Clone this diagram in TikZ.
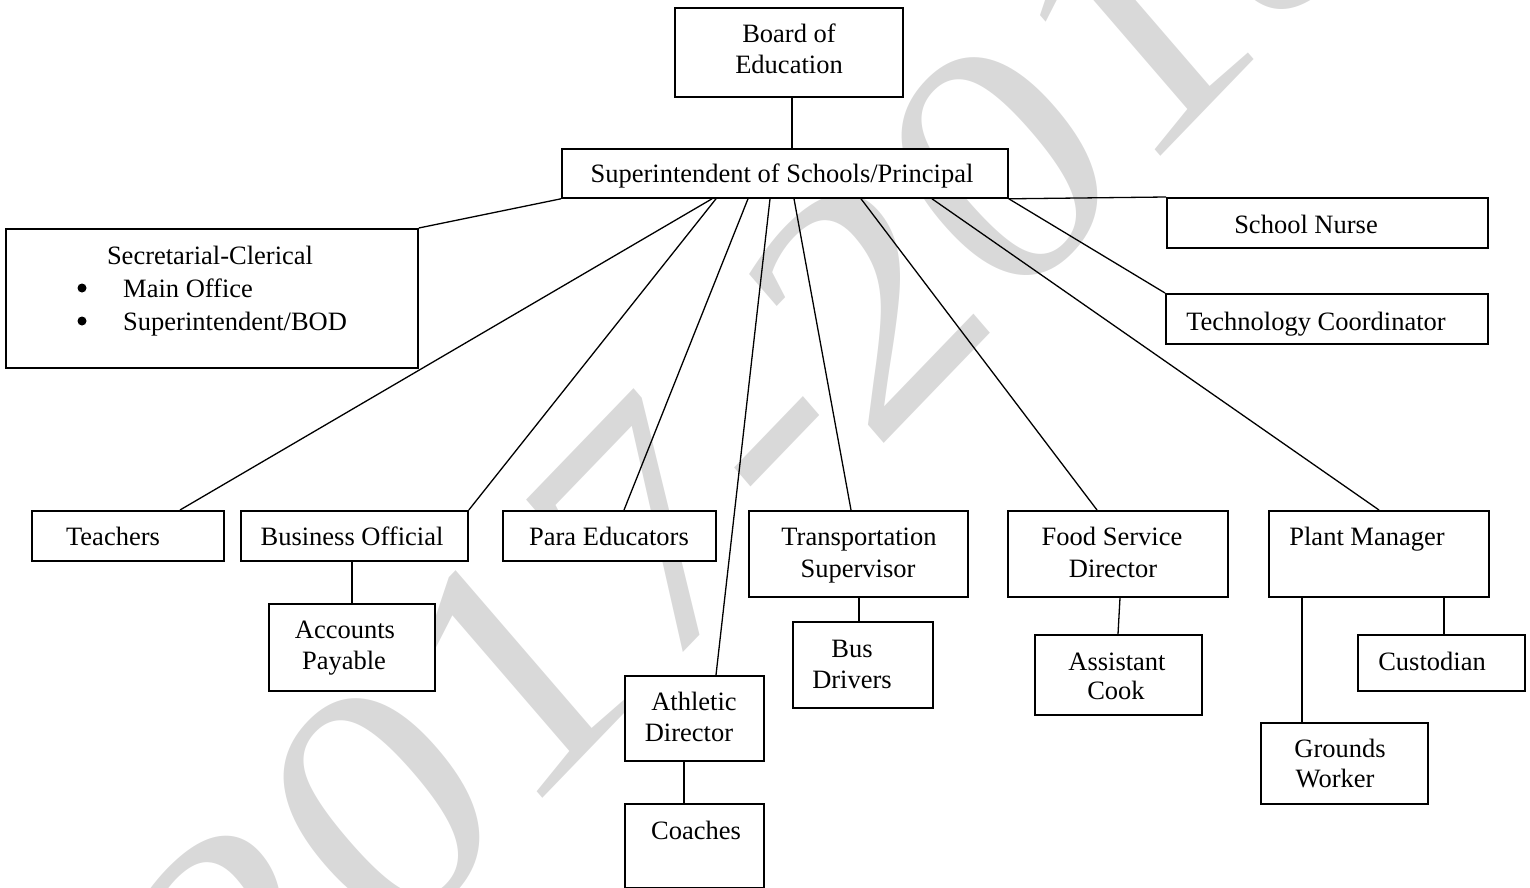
\documentclass[tikz,border=0pt]{standalone}
\usepackage{fontspec}
\setmainfont{Liberation Serif}
\definecolor{wmgray}{RGB}{217,217,217}
\begin{document}
\begin{tikzpicture}[x=1pt,y=-1pt,
  box/.style={draw, fill=white, line width=1.8pt, inner sep=0pt, anchor=north west},
  conn/.style={line width=1.3pt},
  lbl/.style={anchor=base, inner sep=0pt, font=\fontsize{26.5}{31}\selectfont},
  lblw/.style={lbl, anchor=base west},
  bullet/.style={circle, fill=black, inner sep=0pt, minimum size=9pt},
  wm/.style={text=wmgray, inner sep=0pt, font=\fontsize{100}{100}\selectfont}
]
\useasboundingbox (0,0) rectangle (1530,888);
\clip (0,0) rectangle (1530,888);
% watermark
\node[wm, cm={2.65,2.75,-2.19,2.54,(0,0)}, anchor=base west] (wmark) at (254,1098) {2017-2018};

% boxes
\node[box, minimum width=228pt, minimum height=89pt] (board) at (674,7) {};
\node[box, minimum width=446pt, minimum height=49pt] (super) at (561,148) {};
\node[box, minimum width=412pt, minimum height=139pt] (sec) at (5,228) {};
\node[box, minimum width=321pt, minimum height=50pt] (nurse) at (1166,197) {};
\node[box, minimum width=322pt, minimum height=50pt] (tech) at (1165,293) {};
\node[box, minimum width=192pt, minimum height=50pt] (teach) at (31,510) {};
\node[box, minimum width=227pt, minimum height=50pt] (bus) at (240,510) {};
\node[box, minimum width=213pt, minimum height=50pt] (para) at (502,510) {};
\node[box, minimum width=219pt, minimum height=86pt] (trans) at (748,510) {};
\node[box, minimum width=220pt, minimum height=86pt] (food) at (1007,510) {};
\node[box, minimum width=220pt, minimum height=86pt] (plant) at (1268,510) {};
\node[box, minimum width=166pt, minimum height=87pt] (acct) at (268,603) {};
\node[box, minimum width=139pt, minimum height=85pt] (ath) at (624,675) {};
\node[box, minimum width=139pt, minimum height=84pt] (coach) at (624,803) {};
\node[box, minimum width=140pt, minimum height=86pt] (drivers) at (792,621) {};
\node[box, minimum width=167pt, minimum height=80pt] (cook) at (1034,634) {};
\node[box, minimum width=167pt, minimum height=56pt] (cust) at (1357,634) {};
\node[box, minimum width=167pt, minimum height=81pt] (grounds) at (1260,722) {};

% connectors
\draw[conn] (792,0 |- board.south) -- (792,0 |- super.north);
\draw[conn] (super.south west) -- (sec.north east);
\draw[conn] (super.south east) -- (nurse.north west);
\draw[conn] (super.south east) -- (tech.north west);
\draw[conn] (712,0 |- super.south) -- (180,0 |- teach.north);
\draw[conn] (716,0 |- super.south) -- (bus.north east);
\draw[conn] (748,0 |- super.south) -- (624,0 |- para.north);
\draw[conn] (770,0 |- super.south) -- (716,0 |- ath.north);
\draw[conn] (794,0 |- super.south) -- (851,0 |- trans.north);
\draw[conn] (861,0 |- super.south) -- (1097,0 |- food.north);
\draw[conn] (932,0 |- super.south) -- (1379,0 |- plant.north);
\draw[conn] (352,0 |- bus.south) -- (352,0 |- acct.north);
\draw[conn] (684,0 |- ath.south) -- (684,0 |- coach.north);
\draw[conn] (859,0 |- trans.south) -- (859,0 |- drivers.north);
\draw[conn] (1120,0 |- food.south) -- (1118,0 |- cook.north);
\draw[conn] (1444,0 |- plant.south) -- (1444,0 |- cust.north);
\draw[conn] (1302,0 |- plant.south) -- (1302,0 |- grounds.north);

% labels
\node[lbl] (t1) at (789,43) {Board of};
\node[lbl] (t2) at (789,74) {Education};
\node[lbl] (t3) at (782,182) {Superintendent of Schools/Principal};
\node[lbl] (t4) at (210,264) {Secretarial-Clerical};
\node[bullet] (b1) at (82,288) {};
\node[bullet] (b2) at (82,321) {};
\node[lblw] (t5) at (123,297) {Main Office};
\node[lblw] (t6) at (123,330) {Superintendent/BOD};
\node[lbl] (t7) at (1306,233) {School Nurse};
\node[lbl] (t8) at (1316,330) {Technology Coordinator};
\node[lbl] (t9) at (113,545) {Teachers};
\node[lbl] (t10) at (352,545) {Business Official};
\node[lbl] (t11) at (609,545) {Para Educators};
\node[lbl] (t12) at (859,545) {Transportation};
\node[lbl] (t13) at (858,577) {Supervisor};
\node[lbl] (t14) at (1112,545) {Food Service};
\node[lbl] (t15) at (1113,577) {Director};
\node[lbl] (t16) at (1367,545) {Plant Manager};
\node[lbl] (t17) at (345,638) {Accounts};
\node[lbl] (t18) at (344,669) {Payable};
\node[lbl] (t19) at (694,710) {Athletic};
\node[lbl] (t20) at (689,741) {Director};
\node[lbl] (t21) at (696,839) {Coaches};
\node[lbl] (t22) at (852,657) {Bus};
\node[lbl] (t23) at (852,688) {Drivers};
\node[lbl] (t24) at (1117,670) {Assistant};
\node[lbl] (t25) at (1116,699) {Cook};
\node[lbl] (t26) at (1432,670) {Custodian};
\node[lbl] (t27) at (1340,757) {Grounds};
\node[lbl] (t28) at (1335,787) {Worker};
\end{tikzpicture}
\end{document}
